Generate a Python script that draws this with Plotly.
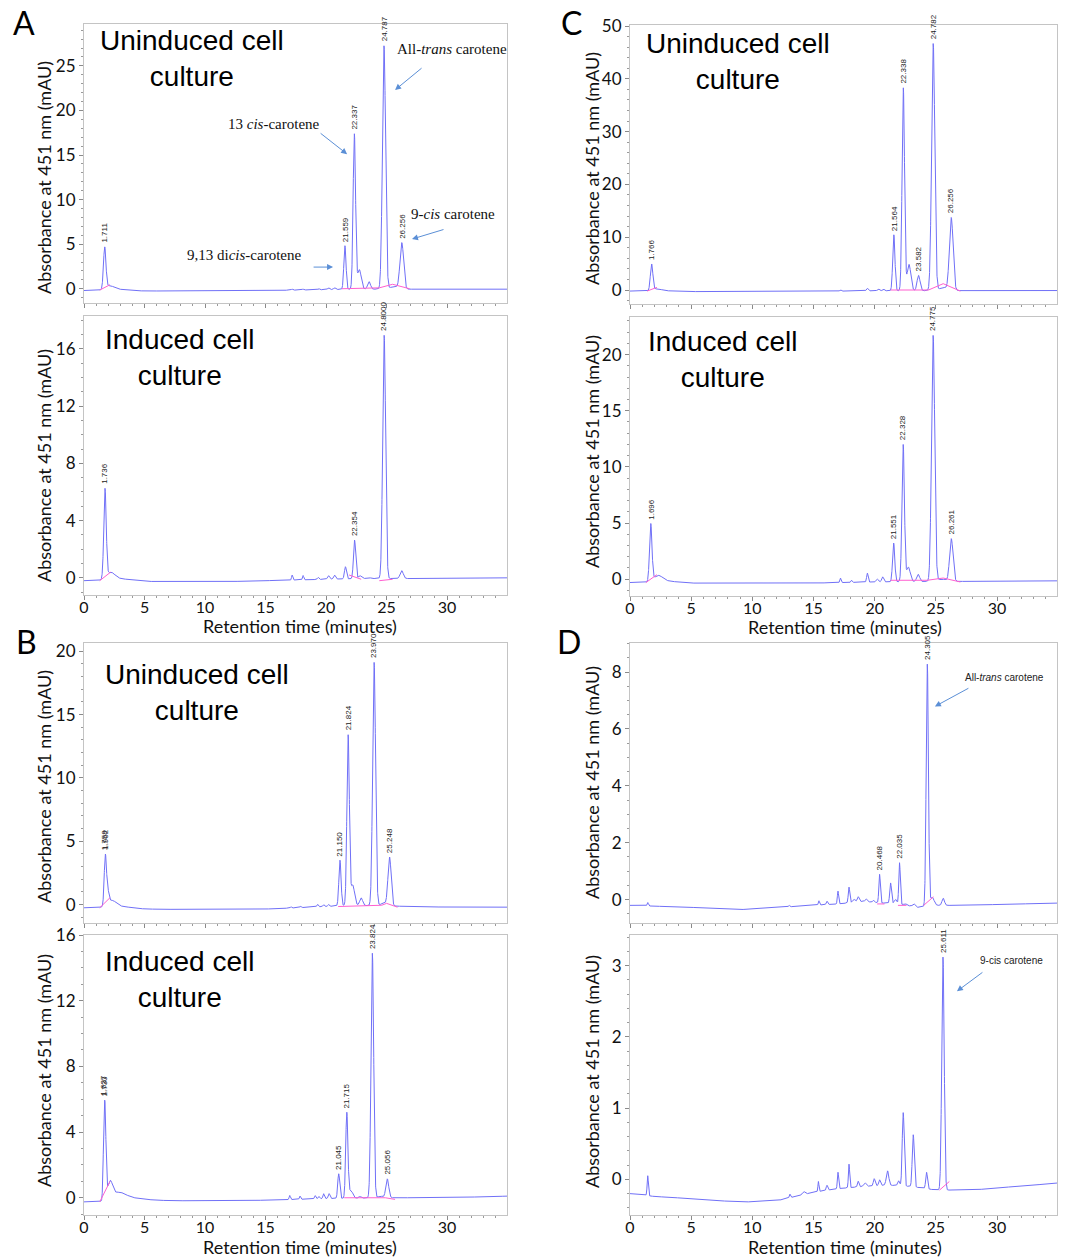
import numpy as np
import plotly.graph_objects as go

W, H = 1065, 1257

# ---------------- DATA ----------------
# Each peak: retention time (min), height above baseline (mAU), width (sigma, min)
# Panel A, uninduced
A_top_rt = [1.711, 2.1, 2.8, 17.2, 18.1, 19.4, 20.2, 20.7, 21.559, 22.337, 22.75, 23.55, 24.787, 25.6, 26.256]
A_top_h  = [4.6, 0.45, 0.15, 0.12, 0.10, 0.12, 0.20, 0.20, 4.9, 17.4, 2.2, 0.85, 27.3, 0.3, 5.2]
A_top_w  = [0.10, 0.35, 0.8, 0.06, 0.06, 0.06, 0.08, 0.08, 0.09, 0.10, 0.15, 0.12, 0.13, 0.3, 0.15]
A_top_bt = [0, 1.3, 5, 10, 15, 20, 23, 30, 35]
A_top_by = [-0.2, -0.2, -0.25, -0.25, -0.2, -0.1, -0.05, -0.05, -0.05]
A_top_lab_rt = [1.711, 21.559, 22.337, 24.787, 26.256]
A_top_lab = ["1.711", "21.559", "22.337", "24.787", "26.256"]
A_top_pink = [(1.3, -0.15, 2.15, 0.45), (21.3, 0.0, 24.4, 0.1), (24.4, 0.1, 25.5, 0.5), (25.5, 0.5, 26.9, 0.0)]

# Panel A, induced
A_bot_rt = [1.736, 2.2, 3.0, 17.2, 18.1, 19.35, 20.2, 20.7, 21.6, 22.354, 22.8, 23.5, 24.8, 26.25]
A_bot_h  = [6.2, 0.5, 0.15, 0.35, 0.30, 0.15, 0.25, 0.28, 0.85, 2.7, 0.2, 0.08, 17.0, 0.55]
A_bot_w  = [0.10, 0.35, 0.9, 0.05, 0.05, 0.06, 0.08, 0.08, 0.08, 0.09, 0.12, 0.15, 0.12, 0.13]
A_bot_bt = [0, 1.3, 5, 10, 15, 20, 23, 30, 35]
A_bot_by = [-0.2, -0.2, -0.25, -0.3, -0.2, -0.1, -0.05, -0.05, 0.0]
A_bot_lab_rt = [1.736, 22.354, 24.8]
A_bot_lab = ["1.736", "22.354", "24.8000"]
A_bot_pink = [(1.3, -0.2, 2.2, 0.4), (21.9, 0.2, 22.9, -0.1), (24.4, -0.2, 25.5, -0.1)]

# Panel B, uninduced
B_top_rt = [1.76, 1.96, 2.3, 3.0, 17.1, 17.9, 19.3, 19.8, 20.2, 21.15, 21.824, 22.2, 22.9, 23.97, 24.8, 25.248]
B_top_h  = [3.9, 1.0, 0.5, 0.15, 0.10, 0.10, 0.20, 0.15, 0.15, 3.6, 13.4, 1.6, 0.6, 19.2, 0.2, 3.8]
B_top_w  = [0.09, 0.10, 0.35, 0.9, 0.05, 0.05, 0.06, 0.06, 0.06, 0.09, 0.10, 0.15, 0.12, 0.12, 0.3, 0.13]
B_top_bt = [0, 1.3, 5, 10, 15, 20, 22, 30, 35]
B_top_by = [-0.25, -0.25, -0.35, -0.4, -0.35, -0.15, -0.05, -0.2, -0.2]
B_top_lab_rt = [1.72, 1.76, 21.15, 21.824, 23.97, 25.248]
B_top_lab = ["1.758", "1.962", "21.150", "21.824", "23.970", "25.248"]
B_top_pink = [(1.3, -0.25, 2.15, 0.55), (21.0, -0.15, 24.6, -0.05), (24.6, -0.05, 25.0, 0.1), (25.0, 0.1, 25.9, -0.2)]

# Panel B, induced
B_bot_rt = [1.64, 1.74, 2.15, 2.8, 3.8, 17.0, 17.85, 19.1, 19.4, 19.8, 20.25, 21.045, 21.715, 22.05, 22.8, 23.824, 24.5, 25.056]
B_bot_h  = [2.5, 4.8, 1.0, 0.45, 0.15, 0.25, 0.2, 0.2, 0.15, 0.3, 0.3, 1.5, 5.2, 0.5, 0.1, 14.9, 0.1, 1.15]
B_bot_w  = [0.07, 0.08, 0.2, 0.6, 1.0, 0.05, 0.05, 0.06, 0.06, 0.06, 0.07, 0.08, 0.09, 0.15, 0.1, 0.11, 0.2, 0.12]
B_bot_bt = [0, 1.3, 5, 10, 15, 20, 25, 30, 35]
B_bot_by = [-0.25, -0.25, -0.15, -0.2, -0.15, -0.05, 0.0, 0.0, 0.1]
B_bot_lab_rt = [1.66, 1.72, 21.045, 21.715, 23.824, 25.056]
B_bot_lab = ["1.627", "1.730", "21.045", "21.715", "23.824", "25.056"]
B_bot_pink = [(1.3, -0.25, 2.15, 1.0), (21.5, 0.0, 24.9, 0.0), (24.9, 0.0, 25.7, -0.1)]

# Panel C, uninduced
C_top_rt = [1.766, 2.2, 3.0, 17.2, 19.4, 20.3, 20.7, 21.564, 22.338, 22.8, 23.582, 24.782, 25.6, 26.256]
C_top_h  = [4.95, 0.4, 0.1, 0.25, 0.5, 0.35, 0.35, 10.6, 38.4, 5.0, 2.9, 46.8, 0.6, 13.8]
C_top_w  = [0.10, 0.35, 0.8, 0.06, 0.07, 0.08, 0.08, 0.09, 0.10, 0.15, 0.12, 0.13, 0.3, 0.15]
C_top_bt = [0, 5, 10, 15, 20, 30, 35]
C_top_by = [-0.2, -0.3, -0.3, -0.25, -0.15, -0.1, -0.1]
C_top_lab_rt = [1.766, 21.564, 22.338, 23.582, 24.782, 26.256]
C_top_lab = ["1.766", "21.564", "22.338", "23.582", "24.782", "26.256"]
C_top_pink = [(1.4, -0.2, 2.2, 0.5), (21.3, 0.0, 24.4, 0.0), (24.4, 0.0, 25.6, 1.2), (25.6, 1.2, 27.0, -0.2)]

# Panel C, induced
C_bot_rt = [1.696, 2.3, 3.0, 17.2, 18.1, 19.4, 20.2, 20.65, 21.551, 22.328, 22.75, 23.55, 24.775, 25.5, 26.261]
C_bot_h  = [5.1, 0.55, 0.15, 0.4, 0.2, 0.8, 0.25, 0.45, 3.45, 12.2, 1.3, 0.65, 21.9, 0.2, 3.8]
C_bot_w  = [0.10, 0.35, 0.8, 0.05, 0.05, 0.06, 0.08, 0.08, 0.09, 0.10, 0.15, 0.12, 0.13, 0.3, 0.14]
C_bot_bt = [0, 1.3, 5, 10, 15, 20, 25, 30, 35]
C_bot_by = [-0.3, -0.3, -0.35, -0.4, -0.35, -0.25, -0.2, -0.2, -0.15]
C_bot_lab_rt = [1.696, 21.551, 22.328, 24.775, 26.261]
C_bot_lab = ["1.696", "21.551", "22.328", "24.775", "26.261"]
C_bot_pink = [(1.3, -0.3, 2.2, 0.4), (21.3, -0.1, 24.3, -0.1), (24.3, -0.1, 25.6, 0.1), (25.6, 0.1, 27.0, -0.25)]

# Panel D, uninduced
D_top_rt = [1.45, 13.0, 15.44, 16.1, 17.0, 17.9, 18.3, 18.65, 19.3, 19.9, 20.4, 21.3, 21.7, 22.03, 22.5, 23.2, 24.3, 24.7, 25.6]
D_top_h  = [0.12, 0.05, 0.15, 0.12, 0.45, 0.55, 0.1, 0.18, 0.1, 0.08, 1.0, 0.72, 0.15, 1.45, 0.05, 0.1, 8.5, 0.3, 0.25]
D_top_w  = [0.05, 0.05, 0.05, 0.06, 0.05, 0.06, 0.1, 0.08, 0.08, 0.06, 0.06, 0.07, 0.1, 0.06, 0.1, 0.1, 0.09, 0.15, 0.1]
D_top_bt = [0, 5, 9, 13, 15, 17, 19, 20, 22, 23.5, 25, 27, 30, 35]
D_top_by = [-0.2, -0.27, -0.35, -0.25, -0.2, -0.15, -0.06, -0.1, -0.15, -0.27, -0.2, -0.2, -0.17, -0.12]
D_top_lab_rt = [20.4, 22.03, 24.3]
D_top_lab = ["20.468", "22.035", "24.305"]
D_top_pink = [(20.2, -0.15, 20.8, -0.15), (21.9, -0.2, 22.6, -0.2), (24.0, -0.2, 24.8, 0.1)]

# Panel D, induced
D_bot_rt = [1.45, 13.07, 14.2, 15.4, 16.1, 17.0, 17.9, 18.65, 19.2, 19.96, 20.4, 21.05, 21.95, 22.33, 23.15, 24.24, 25.58]
D_bot_h  = [0.28, 0.05, 0.04, 0.14, 0.07, 0.23, 0.33, 0.08, 0.05, 0.1, 0.08, 0.2, 0.07, 1.03, 0.73, 0.23, 3.27]
D_bot_w  = [0.05, 0.05, 0.1, 0.04, 0.06, 0.05, 0.05, 0.06, 0.1, 0.07, 0.07, 0.1, 0.08, 0.08, 0.08, 0.07, 0.1]
D_bot_bt = [0, 2, 5, 9, 12, 15, 17, 19, 21, 23, 25, 26.5, 28, 30, 33, 35]
D_bot_by = [-0.2, -0.24, -0.27, -0.32, -0.3, -0.18, -0.13, -0.1, -0.08, -0.1, -0.15, -0.15, -0.15, -0.12, -0.08, -0.05]
D_bot_lab_rt = [25.58]
D_bot_lab = ["25.611"]
D_bot_pink = [(25.3, -0.15, 26.1, -0.03)]

Y_TITLE = "Absorbance at 451 nm (mAU)"
X_TITLE = "Retention time (minutes)"
CELL_TITLES = ["Uninduced cell<br>culture", "Induced cell<br>culture"]

# ---------------- LAYOUT HELPERS ----------------
def px_x(p):
    return p / W

def px_y(p):
    return 1 - p / H

LEFT = (84, 507)
RIGHT = (630, 1057)

panels = [
    dict(rt=A_top_rt, h=A_top_h, w=A_top_w, bt=A_top_bt, by=A_top_by, lrt=A_top_lab_rt, lab=A_top_lab, pink=A_top_pink,
         xpx=LEFT, ypx=(24, 303), yr=[-1.6, 29.7], dt=5, xr=[0, 34.95], bottom=False),
    dict(rt=A_bot_rt, h=A_bot_h, w=A_bot_w, bt=A_bot_bt, by=A_bot_by, lrt=A_bot_lab_rt, lab=A_bot_lab, pink=A_bot_pink,
         xpx=LEFT, ypx=(316, 595), yr=[-1.2, 18.3], dt=4, xr=[0, 34.95], bottom=True),
    dict(rt=B_top_rt, h=B_top_h, w=B_top_w, bt=B_top_bt, by=B_top_by, lrt=B_top_lab_rt, lab=B_top_lab, pink=B_top_pink,
         xpx=LEFT, ypx=(643, 923), yr=[-1.45, 20.65], dt=5, xr=[0, 34.95], bottom=False),
    dict(rt=B_bot_rt, h=B_bot_h, w=B_bot_w, bt=B_bot_bt, by=B_bot_by, lrt=B_bot_lab_rt, lab=B_bot_lab, pink=B_bot_pink,
         xpx=LEFT, ypx=(935, 1215), yr=[-1.05, 16.0], dt=4, xr=[0, 34.95], bottom=True),
    dict(rt=C_top_rt, h=C_top_h, w=C_top_w, bt=C_top_bt, by=C_top_by, lrt=C_top_lab_rt, lab=C_top_lab, pink=C_top_pink,
         xpx=RIGHT, ypx=(25, 304), yr=[-2.65, 50.2], dt=10, xr=[0, 34.9], bottom=False),
    dict(rt=C_bot_rt, h=C_bot_h, w=C_bot_w, bt=C_bot_bt, by=C_bot_by, lrt=C_bot_lab_rt, lab=C_bot_lab, pink=C_bot_pink,
         xpx=RIGHT, ypx=(317, 596), yr=[-1.5, 23.35], dt=5, xr=[0, 34.9], bottom=True),
    dict(rt=D_top_rt, h=D_top_h, w=D_top_w, bt=D_top_bt, by=D_top_by, lrt=D_top_lab_rt, lab=D_top_lab, pink=D_top_pink,
         xpx=RIGHT, ypx=(643, 923), yr=[-0.82, 9.02], dt=2, xr=[0, 34.9], bottom=False),
    dict(rt=D_bot_rt, h=D_bot_h, w=D_bot_w, bt=D_bot_bt, by=D_bot_by, lrt=D_bot_lab_rt, lab=D_bot_lab, pink=D_bot_pink,
         xpx=RIGHT, ypx=(935, 1215), yr=[-0.5, 3.43], dt=1, xr=[0, 34.9], bottom=True),
]

def signal(t, p):
    y = np.interp(t, p["bt"], p["by"])
    for r, hh, ww in zip(p["rt"], p["h"], p["w"]):
        y = y + hh * np.exp(-0.5 * ((t - r) / ww) ** 2)
    return y

t = np.linspace(0, 35, 7001)

fig = go.Figure()
annotations = []
layout = {}
TICKFONT = dict(family="Lato, 'Open Sans', sans-serif", size=16, color="#111")
LINE_COL = "#c4c4c4"
TRACE_COL = "#7070f7"
PINK = "#ff5fd0"

for i, p in enumerate(panels, start=1):
    xs = "" if i == 1 else str(i)
    y = signal(t, p)
    fig.add_trace(go.Scatter(x=t, y=y, mode="lines", line=dict(color=TRACE_COL, width=1),
                             xaxis="x" + xs, yaxis="y" + xs, showlegend=False, hoverinfo="skip"))
    px_, py_ = [], []
    for (a, b, c, d) in p["pink"]:
        px_ += [a, c, None]
        py_ += [b, d, None]
    fig.add_trace(go.Scatter(x=px_, y=py_, mode="lines", line=dict(color=PINK, width=1),
                             xaxis="x" + xs, yaxis="y" + xs, showlegend=False, hoverinfo="skip"))
    x0, x1 = p["xpx"]
    y0, y1 = p["ypx"]
    layout["xaxis" + xs] = dict(
        domain=[px_x(x0), px_x(x1)], range=p["xr"], anchor="y" + xs, automargin=False,
        showline=True, linecolor=LINE_COL, linewidth=1, mirror=True,
        ticks="outside", ticklen=4, tickcolor="#8a8a8a", dtick=5, tick0=0,
        minor=dict(dtick=1, ticks="outside", ticklen=2, tickcolor="#9a9a9a"),
        showgrid=False, zeroline=False, showticklabels=p["bottom"], tickfont=TICKFONT,
        ticklabelstandoff=-6,
    )
    layout["yaxis" + xs] = dict(
        domain=[px_y(y1), px_y(y0)], range=p["yr"], anchor="x" + xs, automargin=False,
        showline=True, linecolor=LINE_COL, linewidth=1, mirror=True,
        ticks="outside", ticklen=4, tickcolor="#8a8a8a", dtick=p["dt"], tick0=0,
        minor=dict(ticks="outside", ticklen=2, tickcolor="#9a9a9a", nticks=6),
        showgrid=False, zeroline=False, tickfont=dict(TICKFONT, size=17),
    )
    # peak labels
    for r, s in zip(p["lrt"], p["lab"]):
        m = (t > r - 0.06) & (t < r + 0.06)
        annotations.append(dict(x=r, y=float(y[m].max()), xref="x" + xs, yref="y" + xs, text=s,
                                textangle=-90, showarrow=False, yanchor="bottom", yshift=2,
                                font=dict(family="Liberation Sans, Arial", size=8, color="#222")))

# y-axis titles
YT_FONT = dict(family="Lato, 'Open Sans', sans-serif", size=18, color="#111")
for (cx, cy) in [(44, 178), (44, 466), (44, 787), (44, 1071), (592, 169), (592, 452), (592, 783), (592, 1072)]:
    annotations.append(dict(x=px_x(cx), y=px_y(cy), xref="paper", yref="paper", text=Y_TITLE,
                            textangle=-90, showarrow=False, xanchor="center", yanchor="middle", font=YT_FONT))
# x-axis titles
for (cx, cy) in [(300, 626), (300, 1247), (845, 627), (845, 1247)]:
    annotations.append(dict(x=px_x(cx), y=px_y(cy), xref="paper", yref="paper", text=X_TITLE,
                            showarrow=False, xanchor="center", yanchor="middle", font=YT_FONT))
# panel letters
for (lt, cx, cy) in [("A", 24, 22), ("B", 26, 642), ("C", 571, 22), ("D", 569, 641)]:
    annotations.append(dict(x=px_x(cx), y=px_y(cy), xref="paper", yref="paper", text=lt,
                            showarrow=False, xanchor="center", yanchor="middle",
                            font=dict(family="Lato, 'Open Sans', sans-serif", size=32, color="#000")))
# culture titles
CT_FONT = dict(family="Liberation Sans, Arial", size=28, color="#000")
for (k, cx, cy) in [(0, 192, 59), (1, 179, 358), (0, 197, 692), (1, 179, 979), (0, 738, 61), (1, 722, 360)]:
    annotations.append(dict(x=px_x(cx), y=px_y(cy), xref="paper", yref="paper", text=CELL_TITLES[k],
                            showarrow=False, xanchor="center", yanchor="middle", align="center", font=CT_FONT))

# compound annotations, panel A (serif)
SERIF = dict(family="Liberation Serif, Times New Roman", size=15, color="#111")
ARROW_COL = "#5b8fd6"
for (txt, tx, ty, hx, hy, ax, ay) in [
    ("All-<i>trans</i> carotene", 30.4, 26.9, 25.7, 22.3, 28, -23),
    ("13 <i>cis</i>-carotene", 15.66, 18.46, 21.74, 15.1, -28, -22),
    ("9,13 di<i>cis</i>-carotene", 13.26, 3.78, 20.58, 2.43, -21, 0),
    ("9-<i>cis</i> carotene", 30.45, 8.37, 27.1, 5.57, 33, -10),
]:
    annotations.append(dict(x=tx, y=ty, xref="x", yref="y", text=txt, showarrow=False, font=SERIF))
    annotations.append(dict(x=hx, y=hy, xref="x", yref="y", text="", showarrow=True, ax=ax, ay=ay,
                            arrowhead=2, arrowsize=1.2, arrowwidth=1, arrowcolor=ARROW_COL))

SANS = dict(family="Liberation Sans, Arial", size=10, color="#222")
for (txt, ax_id, tx, ty, hx, hy, ax, ay) in [
    ("All-<i>trans</i> carotene", "7", 30.64, 7.81, 24.92, 6.79, 35, -19),
    ("9-cis carotene", "8", 31.17, 3.07, 26.72, 2.64, 27, -20),
]:
    annotations.append(dict(x=tx, y=ty, xref="x" + ax_id, yref="y" + ax_id, text=txt, showarrow=False, font=SANS))
    annotations.append(dict(x=hx, y=hy, xref="x" + ax_id, yref="y" + ax_id, text="", showarrow=True, ax=ax, ay=ay,
                            arrowhead=2, arrowsize=1.2, arrowwidth=1, arrowcolor=ARROW_COL))

fig.update_layout(
    template="none",
    width=W, height=H, margin=dict(l=0, r=0, t=0, b=0, pad=0, autoexpand=False),
    paper_bgcolor="white", plot_bgcolor="white",
    annotations=annotations, showlegend=False, **layout,
)

fig.write_html("out.html", config={"displayModeBar": False},
               post_script="document.body.style.margin='0px';")
